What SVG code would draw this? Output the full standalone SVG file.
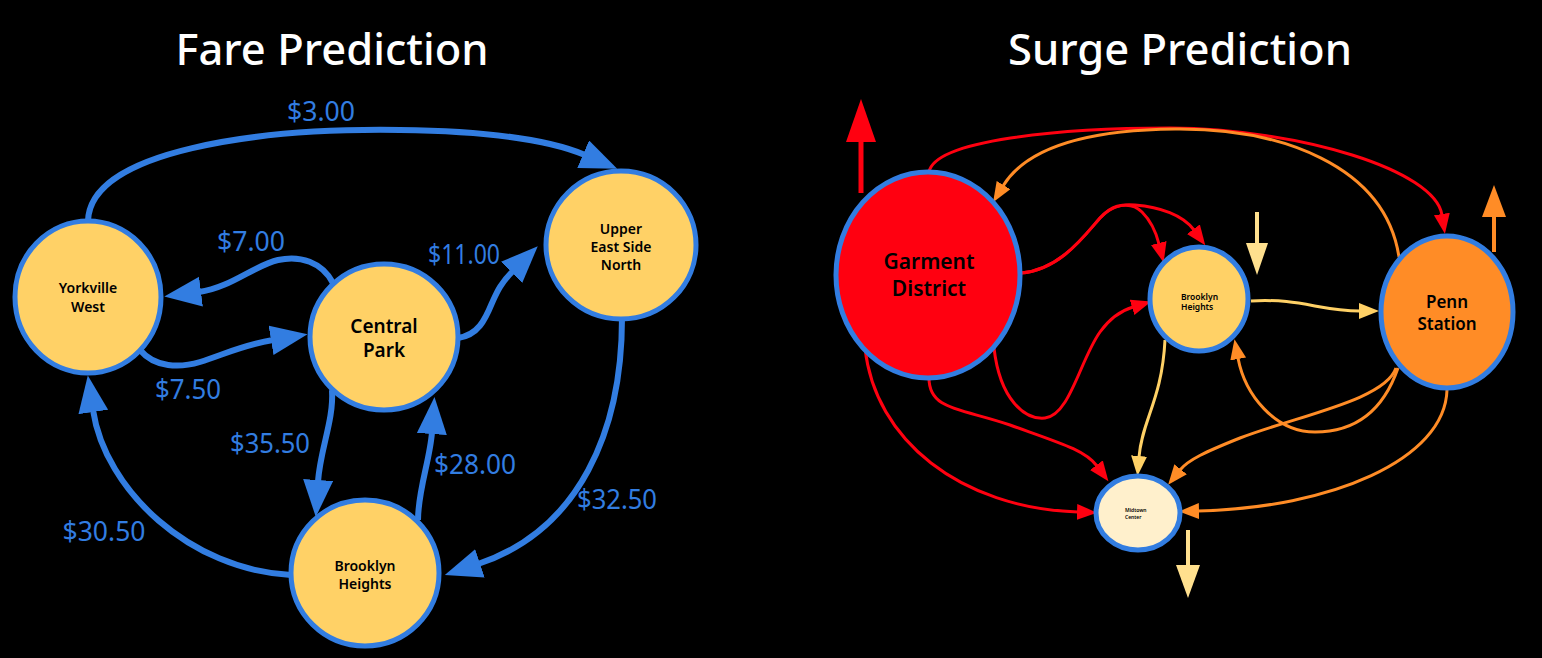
<svg xmlns="http://www.w3.org/2000/svg" width="1542" height="658" viewBox="0 0 1542 658">
<style>
.title{font-family:"Noto Sans","Open Sans",sans-serif;font-size:44px;font-weight:500;fill:#fff;text-anchor:middle}
.lbl{font-family:"Noto Sans","Open Sans",sans-serif;font-size:27px;fill:#327DE1;text-anchor:middle}
.nt{font-family:"Noto Sans","Open Sans",sans-serif;font-weight:600;fill:#000;text-anchor:middle}
.node{stroke:#327DE1;stroke-width:5}
.be{fill:none;stroke:#327DE1;stroke-width:6;marker-end:url(#ab)}
.re{fill:none;stroke:#FF0010;stroke-width:3;marker-end:url(#ar)}
.oe{fill:none;stroke:#FF8C26;stroke-width:3;marker-end:url(#ao)}
.ye{fill:none;stroke:#FFD166;stroke-width:3;marker-end:url(#ay)}
</style>
<defs>
<marker id="ab" markerUnits="userSpaceOnUse" markerWidth="40" markerHeight="32" refX="2" refY="15" orient="auto"><path d="M0,0 L37,15 L0,30 z" fill="#327DE1"/></marker>
<marker id="ar" markerUnits="userSpaceOnUse" markerWidth="22" markerHeight="18" refX="1" refY="8" orient="auto"><path d="M0,0 L20,8 L0,16 z" fill="#FF0010"/></marker>
<marker id="ao" markerUnits="userSpaceOnUse" markerWidth="22" markerHeight="18" refX="1" refY="8" orient="auto"><path d="M0,0 L20,8 L0,16 z" fill="#FF8C26"/></marker>
<marker id="ay" markerUnits="userSpaceOnUse" markerWidth="22" markerHeight="18" refX="1" refY="8" orient="auto"><path d="M0,0 L20,8 L0,16 z" fill="#FFD166"/></marker>
</defs>
<rect width="1542" height="658" fill="#000"/>
<text class="title" x="332" y="65" textLength="313" lengthAdjust="spacingAndGlyphs">Fare Prediction</text>
<text class="title" x="1180" y="65" textLength="344" lengthAdjust="spacingAndGlyphs">Surge Prediction</text>

<g id="connectors">
<path class="be" d="M88,221 C90,150 260,128 400,130 C480,131 545,138 585,155"/>
<path class="be" d="M333,283 C322,262 300,255 278,260 C255,265 230,288 199,292"/>
<path class="be" d="M140,350 C155,368 180,368 200,362 C225,354 243,345 273,340"/>
<path class="be" d="M458,338 C478,335 485,320 492,303 C497,292 500,284 513,271"/>
<path class="be" d="M332,390 C334,420 320,450 318,482"/>
<path class="be" d="M418,520 C418,490 430,460 432,432"/>
<path class="be" d="M622,318 C622,430 580,530 478,564"/>
<path class="be" d="M291,575 C190,570 105,490 93,410"/>

<path class="re" d="M929,172 C935,140 1060,128 1170,128 C1300,129 1435,170 1442,215"/>
<path class="oe" d="M1399,257 C1385,165 1280,128 1175,129 C1080,130 1025,150 1003,186"/>
<path class="re" d="M1021,273 C1060,270 1085,235 1100,218 C1112,205 1130,200 1142,212 C1150,220 1156,232 1159,244"/>
<path class="re" d="M1021,273 C1060,270 1085,235 1100,218 C1112,205 1122,204 1135,205 C1160,207 1183,215 1194,230"/>
<path class="re" d="M994,348 C1000,400 1025,420 1045,418 C1070,415 1080,360 1100,332 C1110,318 1120,311 1133,307"/>
<path class="re" d="M929,378 C929,410 960,408 1010,425 C1060,443 1085,450 1097,466"/>
<path class="re" d="M865,348 C875,440 960,508 1078,512"/>
<path class="ye" d="M1165,340 C1162,400 1142,420 1139,457"/>
<path class="ye" d="M1251,301 C1300,298 1320,311 1360,311"/>
<path class="oe" d="M1398,368 C1380,420 1345,432 1315,432 C1275,432 1245,395 1238,358"/>
<path class="oe" d="M1396,368 C1385,400 1300,415 1240,438 C1205,452 1188,460 1180,470"/>
<path class="oe" d="M1447,390 C1445,460 1330,508 1198,511"/>

<line x1="861" y1="193" x2="861" y2="140" stroke="#FF0010" stroke-width="5"/>
<polygon points="861,99 846,142 876,142" fill="#FF0010"/>
<line x1="1494" y1="252" x2="1494" y2="215" stroke="#FF8C26" stroke-width="4"/>
<polygon points="1494,185 1482,217 1506,217" fill="#FF8C26"/>
<line x1="1257" y1="212" x2="1257" y2="245" stroke="#FFE08E" stroke-width="4"/>
<polygon points="1246,243 1268,243 1257,275" fill="#FFE08E"/>
<line x1="1188" y1="530" x2="1188" y2="567" stroke="#FFE08E" stroke-width="4"/>
<polygon points="1176,565 1200,565 1188,598" fill="#FFE08E"/>
</g>

<g id="fare-labels">
<text class="lbl" x="321" y="121" textLength="68" lengthAdjust="spacingAndGlyphs">$3.00</text>
<text class="lbl" x="251" y="251" textLength="68" lengthAdjust="spacingAndGlyphs">$7.00</text>
<text class="lbl" x="464" y="264" textLength="72" lengthAdjust="spacingAndGlyphs">$11.00</text>
<text class="lbl" x="188" y="399" textLength="66" lengthAdjust="spacingAndGlyphs">$7.50</text>
<text class="lbl" x="270" y="453" textLength="80" lengthAdjust="spacingAndGlyphs">$35.50</text>
<text class="lbl" x="475" y="474" textLength="82" lengthAdjust="spacingAndGlyphs">$28.00</text>
<text class="lbl" x="617" y="509" textLength="80" lengthAdjust="spacingAndGlyphs">$32.50</text>
<text class="lbl" x="104" y="541" textLength="83" lengthAdjust="spacingAndGlyphs">$30.50</text>
</g>

<g id="yorkville-west">
<ellipse class="node" cx="88" cy="297" rx="73" ry="76" fill="#FFD166"/>
<text class="nt" font-size="14" x="88" y="293">Yorkville</text>
<text class="nt" font-size="14" x="88" y="312">West</text>
</g>
<g id="central-park">
<ellipse class="node" cx="384" cy="337" rx="74" ry="73" fill="#FFD166"/>
<text class="nt" font-size="19" x="384" y="333">Central</text>
<text class="nt" font-size="19" x="384" y="357">Park</text>
</g>
<g id="upper-east-side-north">
<ellipse class="node" cx="621" cy="245" rx="75" ry="74" fill="#FFD166"/>
<text class="nt" font-size="14" x="621" y="234">Upper</text>
<text class="nt" font-size="14" x="621" y="252">East Side</text>
<text class="nt" font-size="14" x="621" y="270">North</text>
</g>
<g id="brooklyn-heights-fare">
<ellipse class="node" cx="365" cy="573" rx="74" ry="73" fill="#FFD166"/>
<text class="nt" font-size="14" x="365" y="571">Brooklyn</text>
<text class="nt" font-size="14" x="365" y="589">Heights</text>
</g>

<g id="garment-district">
<ellipse class="node" cx="928" cy="275" rx="92" ry="103" fill="#FF0010"/>
<text class="nt" font-size="21" font-weight="500" x="929" y="269">Garment</text>
<text class="nt" font-size="21" font-weight="500" x="929" y="296">District</text>
</g>
<g id="brooklyn-heights-surge">
<ellipse class="node" cx="1199" cy="299" rx="49" ry="52" fill="#FFD166"/>
<text class="nt" font-size="8.5" font-weight="500" style="text-anchor:start" x="1181" y="300">Brooklyn</text>
<text class="nt" font-size="8.5" font-weight="500" style="text-anchor:start" x="1181" y="310">Heights</text>
</g>
<g id="penn-station">
<ellipse class="node" cx="1447" cy="312" rx="66" ry="76" fill="#FF8C26"/>
<text class="nt" font-size="17" font-weight="500" x="1447" y="308">Penn</text>
<text class="nt" font-size="17" font-weight="500" x="1447" y="330">Station</text>
</g>
<g id="midtown-center">
<ellipse class="node" cx="1138" cy="513" rx="42" ry="37" fill="#FFF0CC"/>
<text class="nt" font-size="5" font-weight="500" style="text-anchor:start" x="1125" y="512">Midtown</text>
<text class="nt" font-size="5" font-weight="500" style="text-anchor:start" x="1125" y="519">Center</text>
</g>
</svg>
